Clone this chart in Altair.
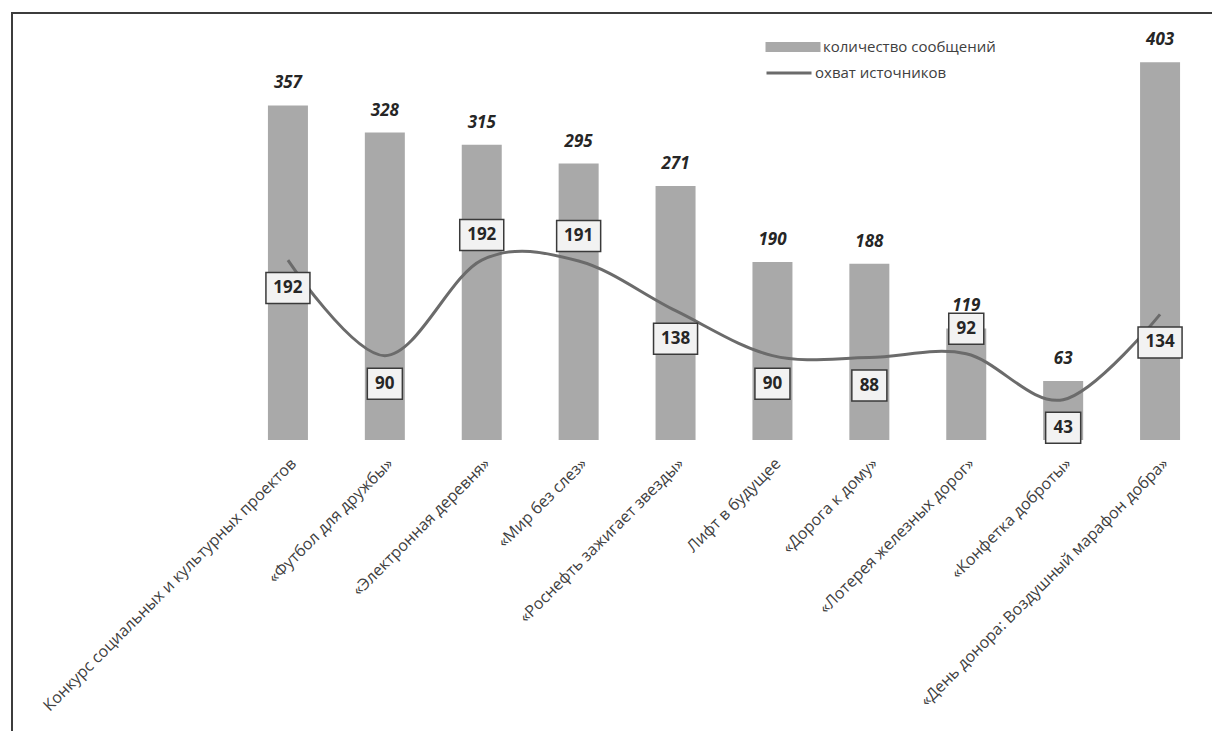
import altair as alt
import pandas as pd

categories = [
    "Конкурс социальных и культурных проектов",
    "«Футбол для дружбы»",
    "«Электронная деревня»",
    "«Мир без слез»",
    "«Роснефть зажигает звезды»",
    "Лифт в будущее",
    "«Дорога к дому»",
    "«Лотерея железных дорог»",
    "«Конфетка доброты»",
    "«День донора: Воздушный марафон добра»",
]
messages = [357, 328, 315, 295, 271, 190, 188, 119, 63, 403]
reach = [192, 90, 192, 191, 138, 90, 88, 92, 43, 134]
label_side = ["below", "below", "above", "above", "below", "below", "below", "above", "below", "below"]

bar_name = "количество сообщений"
line_name = "охват источников"

df = pd.DataFrame({
    "category": categories,
    "messages": messages,
    "reach": reach,
    "side": label_side,
    "bar_series": [bar_name] * len(categories),
    "line_series": [line_name] * len(categories),
})

FONT = "Open Sans"
BAR_COLOR = "#a9a9a9"
LINE_COLOR = "#6b6b6b"
TEXT_COLOR = "#262626"

x_enc = alt.X(
    "category:N",
    sort=None,
    scale=alt.Scale(paddingInner=0.59, paddingOuter=0.3),
    axis=alt.Axis(
        title=None, labelAngle=-45, labelFontSize=16, labelFont=FONT,
        labelColor="#404040", domain=False, ticks=False, labelPadding=15,
        labelLimit=600, grid=False,
    ),
)
y_scale = alt.Scale(domain=[0, 430], nice=False)

base = alt.Chart(df)

bars = base.mark_bar(size=40).encode(
    x=x_enc,
    y=alt.Y("messages:Q", scale=y_scale, axis=None),
    fill=alt.Fill(
        "bar_series:N",
        scale=alt.Scale(domain=[bar_name], range=[BAR_COLOR]),
        legend=alt.Legend(
            title=None, orient="none", legendX=544, legendY=0,
            symbolType="M-2.75,-0.5H2.75V0.5H-2.75Z", symbolSize=400,
            symbolStrokeWidth=0, labelOffset=20, labelFontSize=15,
            labelFont=FONT, labelColor="#404040", padding=0, labelLimit=400,
        ),
    ),
)

line = base.mark_line(interpolate="cardinal", strokeWidth=3).encode(
    x=alt.X("category:N", sort=None),
    y=alt.Y("reach:Q", scale=y_scale, axis=None),
    stroke=alt.Stroke(
        "line_series:N",
        scale=alt.Scale(domain=[line_name], range=[LINE_COLOR]),
        legend=alt.Legend(
            title=None, orient="none", legendX=526, legendY=12,
            symbolType="stroke", symbolSize=2025, symbolStrokeWidth=3,
            labelOffset=2, labelFontSize=15, labelFont=FONT,
            labelColor="#404040", padding=0, labelLimit=400,
        ),
    ),
)

path3 = "M-1.42,-1H1.42V1H-1.42Z"
path2 = "M-1.13,-1H1.13V1H-1.13Z"

def boxes(side, off):
    sub = base.transform_filter(alt.datum.side == side)
    box = sub.mark_point(
        size=961, filled=True, fill="#f2f2f2", stroke="#3a3a3a",
        strokeWidth=1.5, opacity=1, yOffset=off,
    ).encode(
        x=alt.X("category:N", sort=None),
        y=alt.Y("reach:Q", scale=y_scale, axis=None),
        shape=alt.condition("datum.reach >= 100", alt.value(path3), alt.value(path2)),
    )
    txt = sub.mark_text(
        fontSize=17, fontWeight="bold", font=FONT, color=TEXT_COLOR,
        dy=off, baseline="middle",
    ).encode(
        x=alt.X("category:N", sort=None),
        y=alt.Y("reach:Q", scale=y_scale, axis=None),
        text=alt.Text("reach:Q"),
    )
    return box + txt

bar_labels = base.mark_text(
    fontSize=17, fontWeight="bold", fontStyle="italic", font=FONT,
    color=TEXT_COLOR, dy=-22, baseline="middle",
).encode(
    x=alt.X("category:N", sort=None),
    y=alt.Y("messages:Q", scale=y_scale, axis=None),
    text=alt.Text("messages:Q"),
)

frame_left = base.mark_rule(color="#3c3c3c", strokeWidth=2).encode(
    x=alt.value(-227), y=alt.value(-24), y2=alt.value(720),
)
frame_top = base.mark_rule(color="#3c3c3c", strokeWidth=2).encode(
    x=alt.value(-228), x2=alt.value(990), y=alt.value(-24),
)

chart = alt.layer(
    bars, line, boxes("below", 28), boxes("above", -25), bar_labels,
    frame_left, frame_top,
).resolve_scale(y="shared").properties(
    width=970, height=403,
    autosize=alt.AutoSizeParams(type="none"),
    padding={"left": 239, "top": 37, "right": 3, "bottom": 291},
    background="white",
).configure_view(stroke=None, strokeWidth=0)

chart.save("out.html", embed_options={"renderer": "svg", "actions": False})
